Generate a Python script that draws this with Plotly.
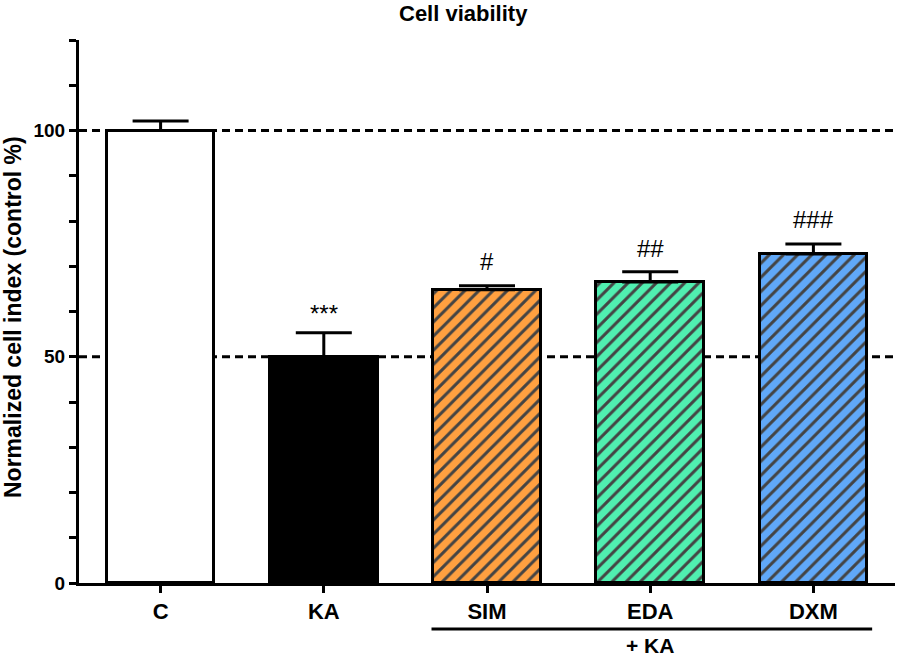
import plotly.graph_objects as go

categories = ["C", "KA", "SIM", "EDA", "DXM"]
values = [100, 50, 64.8, 66.5, 72.7]
errors = [2.1, 5.3, 0.9, 2.3, 2.2]
labels = ["", "***", "#", "##", "###"]
label_y = [None, 59.5, 71, 74, 80.3]
colors = ["#FFFFFF", "#000000", "#FFA040", "#50EFB0", "#60A8F8"]
patterns = ["", "", "/", "/", "/"]
ref_lines = [100, 50]
ytick_vals = list(range(0, 121, 10))
ytick_labels = {0: "0", 50: "50", 100: "100"}
ytick_text = ["<b>%s</b>" % ytick_labels[v] if v in ytick_labels else "" for v in ytick_vals]

FONT = "Arial, Liberation Sans, sans-serif"
W, H = 898, 656
ML, MR, MT, MB = 79, 3, 40, 73
PW, PH = W - ML - MR, H - MT - MB

fig = go.Figure()

for yv in ref_lines:
    fig.add_shape(type="line", xref="x", yref="y", x0=-0.5, x1=4.5, y0=yv, y1=yv,
                  line=dict(color="black", width=3, dash="8px,5px"), layer="below")

fig.add_trace(go.Bar(
    x=list(range(len(categories))), y=values, width=0.66,
    marker=dict(color=colors, line=dict(color="black", width=3),
                pattern=dict(shape=patterns, fgcolor="black", fgopacity=1, size=10, solidity=0.3)),
    error_y=dict(type="data", symmetric=False, array=errors, arrayminus=[0] * len(errors),
                 color="black", thickness=3, width=28),
    showlegend=False,
))

for i, (t, yy) in enumerate(zip(labels, label_y)):
    if t:
        fig.add_annotation(x=i, y=yy, text=t, showarrow=False, xref="x", yref="y",
                           font=dict(family=FONT, size=24, color="black"), yanchor="middle")

# "+ KA" bracket
fig.add_shape(type="line", xref="x", yref="paper", x0=2 - 0.34, x1=4 + 0.36,
              y0=-(629 - 583) / PH, y1=-(629 - 583) / PH, line=dict(color="black", width=3))
fig.add_annotation(x=3, y=-(645 - 583) / PH, xref="x", yref="paper", text="<b>+ KA</b>", showarrow=False,
                   font=dict(family=FONT, size=21, color="black"), yanchor="middle")

# title
fig.add_annotation(x=(463 - ML) / PW, y=1 + (MT - 13) / PH, xref="paper", yref="paper",
                   text="<b>Cell viability</b>", showarrow=False, yanchor="middle",
                   font=dict(family=FONT, size=22, color="black"))
# y-axis title
fig.add_annotation(x=(13 - ML) / PW, y=(583 - 317) / PH, xref="paper", yref="paper",
                   text="<b>Normalized cell index (control %)</b>", showarrow=False, textangle=-90,
                   xanchor="center", yanchor="middle",
                   font=dict(family=FONT, size=23, color="black"))

fig.update_layout(
    width=W, height=H,
    margin=dict(l=ML, r=MR, t=MT, b=MB),
    plot_bgcolor="white", paper_bgcolor="white",
    bargap=0,
    xaxis=dict(range=[-0.5, 4.5], tickvals=list(range(len(categories))),
               ticktext=["<b>%s</b>" % c for c in categories],
               showline=True, linecolor="black", linewidth=3, ticks="outside", ticklen=7,
               tickwidth=3, tickcolor="black", showgrid=False, zeroline=False,
               tickfont=dict(family=FONT, size=22, color="black"), ticklabelstandoff=0),
    yaxis=dict(range=[0, 120], tickvals=ytick_vals, ticktext=ytick_text,
               showline=True, linecolor="black", linewidth=3, ticks="outside", ticklen=7,
               tickwidth=3, tickcolor="black", showgrid=False, zeroline=False,
               tickfont=dict(family=FONT, size=19, color="black")),
)

fig.write_html("out.html", config={"displayModeBar": False},
               post_script="document.body.style.margin='0';")
